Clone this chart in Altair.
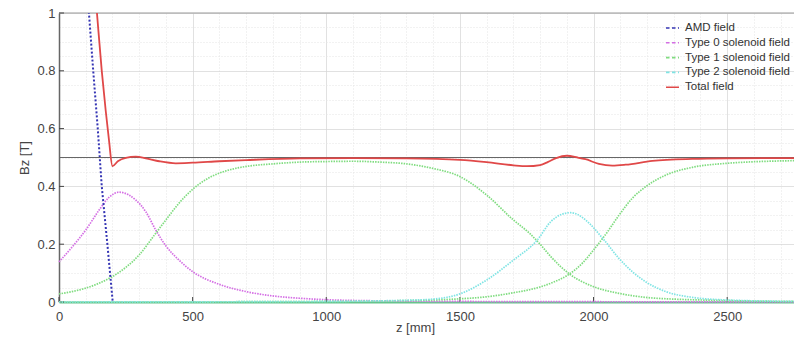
import altair as alt
import pandas as pd

FONT = "Liberation Sans"

# Series names, colours and legend dash styles
series_names = [
    "AMD field",
    "Type 0 solenoid field",
    "Type 1 solenoid field",
    "Type 2 solenoid field",
    "Total field",
]
series_colors = ["#3434b4", "#d46ee4", "#7fdc7f", "#7fe4e4", "#e04848"]
legend_dashes = [[3.5, 2.5], [3.5, 2.5], [3.5, 2.5], [3.5, 2.5], [1, 0]]

# AMD field
z_amd = [90, 112, 128, 145, 160, 181, 201]
bz_amd = [1.35, 1.0, 0.8, 0.6, 0.4, 0.2, 0.0]

# Type 0 solenoid
z_t0 = [0, 50, 100, 150, 187, 225, 260, 287, 325, 362, 400, 449, 500, 600,
        700, 800, 900, 1000, 1200, 1500, 2000, 2750]
bz_t0 = [0.139, 0.191, 0.249, 0.318, 0.362, 0.380, 0.371, 0.353, 0.312, 0.249,
         0.194, 0.145, 0.105, 0.061, 0.036, 0.021, 0.013, 0.008, 0.004, 0.002,
         0.001, 0.0]

# Type 1 solenoids (two coils)
z_t1a = [0, 100, 150, 200, 250, 300, 362, 400, 450, 500, 550, 600, 650, 700,
         800, 900, 1000, 1100, 1200, 1300, 1400, 1500, 1600, 1700, 1760, 1800,
         1840, 1910, 2000, 2095, 2195, 2300, 2400, 2550, 2750]
bz_t1a = [0.028, 0.048, 0.065, 0.088, 0.12, 0.163, 0.238, 0.284, 0.343, 0.39,
          0.424, 0.446, 0.46, 0.469, 0.478, 0.484, 0.486, 0.487, 0.484, 0.478,
          0.462, 0.434, 0.37, 0.284, 0.238, 0.2, 0.157, 0.097, 0.053, 0.03,
          0.016, 0.01, 0.007, 0.004, 0.002]
z_t1b = [0, 1000, 1300, 1400, 1500, 1600, 1700, 1800, 1840, 1910, 1960, 2000,
         2050, 2095, 2145, 2195, 2270, 2370, 2500, 2620, 2750]
bz_t1b = [0.0, 0.002, 0.005, 0.007, 0.011, 0.018, 0.032, 0.052, 0.065, 0.097,
          0.136, 0.18, 0.24, 0.3, 0.359, 0.399, 0.439, 0.466, 0.48, 0.486, 0.489]

# Type 2 solenoid
z_t2 = [0, 1000, 1200, 1300, 1400, 1500, 1600, 1700, 1790, 1840, 1880, 1914,
        1940, 1970, 2039, 2095, 2145, 2195, 2270, 2370, 2500, 2750]
bz_t2 = [0.0, 0.002, 0.004, 0.006, 0.01, 0.028, 0.076, 0.145, 0.215, 0.278,
         0.303, 0.309, 0.303, 0.284, 0.215, 0.151, 0.105, 0.07, 0.036, 0.016,
         0.007, 0.002]

# Total field
z_tot = [120, 142, 160, 175, 187, 200, 220, 250, 287, 330, 375, 437, 500, 600,
         700, 900, 1100, 1300, 1500, 1600, 1700, 1751, 1800, 1830, 1860, 1900,
         1940, 1970, 2020, 2070, 2120, 2220, 2370, 2500, 2750]
bz_tot = [1.25, 1.0, 0.8, 0.66, 0.56, 0.47, 0.487, 0.499, 0.503, 0.496, 0.487,
          0.480, 0.482, 0.487, 0.491, 0.497, 0.498, 0.497, 0.492, 0.484, 0.473,
          0.470, 0.474, 0.485, 0.498, 0.506, 0.5, 0.494, 0.478, 0.472, 0.475,
          0.488, 0.495, 0.497, 0.498]

# Axis ticks / grid
z_grid = list(range(0, 2800, 100))
z_major = [0, 500, 1000, 1500, 2000, 2500]
bz_grid = [0.0, 0.05, 0.1, 0.15, 0.2, 0.25, 0.3, 0.35, 0.4, 0.45, 0.5, 0.55,
           0.6, 0.65, 0.7, 0.75, 0.8, 0.85, 0.9, 0.95, 1.0]
bz_major = [0.0, 0.2, 0.4, 0.6, 0.8, 1.0]
bz_reference = [0.5]


def frame(name, curve, z, bz):
    return pd.DataFrame({"z": z, "bz": bz, "series": name, "curve": curve})


amd_df = frame(series_names[0], "amd", z_amd, bz_amd)
coils_df = pd.concat([
    frame(series_names[1], "t0", z_t0, bz_t0),
    frame(series_names[2], "t1a", z_t1a, bz_t1a),
    frame(series_names[2], "t1b", z_t1b, bz_t1b),
    frame(series_names[3], "t2", z_t2, bz_t2),
])
total_df = frame(series_names[4], "total", z_tot, bz_tot)
legend_df = pd.DataFrame({"z": pd.Series([], dtype=float),
                          "bz": pd.Series([], dtype=float),
                          "series": pd.Series([], dtype=str)})

x_scale = alt.Scale(domain=[0, 2750], nice=False, zero=False)
y_scale = alt.Scale(domain=[0, 1], nice=False)

x_axis = alt.Axis(
    values=z_grid,
    labelExpr="datum.value % 500 === 0 ? datum.label : ''",
    format="d",
    ticks=False,
    labelPadding=8,
    labelFlush=False,
    labelOverlap=False,
    labelFont=FONT,
    labelFontSize=13,
    labelColor="#444444",
    title="z [mm]",
    titleFont=FONT,
    titleFontSize=13,
    titleFontWeight="normal",
    titleColor="#444444",
    titleX=356,
    titleY=19,
    domainColor="#66c48c",
    domainWidth=2,
    grid=True,
    gridWidth=1,
    gridColor={"condition": {"test": "datum.value % 500 === 0", "value": "#d6d6d6"},
               "value": "#e4e4e4"},
    gridDash={"condition": {"test": "datum.value % 500 === 0", "value": [1, 0]},
              "value": [1, 2]},
)

y_axis = alt.Axis(
    values=bz_grid,
    format="~g",
    labelExpr="round(datum.value * 100) % 20 === 0 ? datum.label : ''",
    ticks=False,
    labelPadding=4,
    labelOverlap=False,
    labelFont=FONT,
    labelFontSize=13,
    labelColor="#444444",
    title="Bz [T]",
    titleFont=FONT,
    titleFontSize=13,
    titleFontWeight="normal",
    titleColor="#444444",
    titlePadding=5,
    domainColor="#666666",
    domainWidth=1.5,
    grid=True,
    gridWidth=1,
    gridColor={"condition": {"test": "round(datum.value * 100) % 20 === 0", "value": "#d6d6d6"},
               "value": "#e4e4e4"},
    gridDash={"condition": {"test": "round(datum.value * 100) % 20 === 0", "value": [1, 0]},
              "value": [1, 2]},
)

x_enc = alt.X("z:Q", scale=x_scale, axis=x_axis)
y_enc = alt.Y("bz:Q", scale=y_scale, axis=y_axis)

legend = alt.Legend(
    title=None,
    orient="none",
    legendX=606,
    legendY=7.5,
    padding=0,
    symbolType="stroke",
    symbolSize=169,
    symbolStrokeWidth=1.6,
    labelFont=FONT,
    labelFontSize=11.5,
    labelColor="#333333",
    labelOffset=5,
    rowPadding=1.8,
)
color_enc = alt.Color("series:N", scale=alt.Scale(domain=series_names, range=series_colors),
                      legend=legend)
dash_enc = alt.StrokeDash("series:N", scale=alt.Scale(domain=series_names, range=legend_dashes),
                          legend=legend)

# Empty layer that only carries the legend dash styles
legend_layer = alt.Chart(legend_df).mark_line().encode(
    x=x_enc, y=y_enc, color=color_enc, strokeDash=dash_enc
)

coils = alt.Chart(coils_df).mark_line(
    interpolate="monotone", strokeWidth=1.7, strokeDash=[1.5, 1.1]
).encode(x=x_enc, y=y_enc, color=color_enc, detail="curve:N")

amd = alt.Chart(amd_df).mark_line(
    interpolate="linear", strokeWidth=2, strokeDash=[2, 2], clip=True
).encode(x=x_enc, y=y_enc, color=color_enc)

total = alt.Chart(total_df).mark_line(
    interpolate="monotone", strokeWidth=1.8, clip=True
).encode(x=x_enc, y=y_enc, color=color_enc)

reference = alt.Chart(pd.DataFrame({"bz": bz_reference})).mark_rule(
    color="#666666", strokeWidth=1
).encode(y=y_enc)

top_border = alt.Chart(pd.DataFrame({"bz": [1.0]})).mark_rule(
    color="#999999", strokeWidth=1
).encode(y=y_enc)

x_ticks = alt.Chart(pd.DataFrame({"z": z_major})).mark_rule(
    color="#444444", strokeWidth=1
).encode(x=x_enc, y=alt.value(289), y2=alt.value(284))

y_ticks = alt.Chart(pd.DataFrame({"bz": bz_major})).mark_rule(
    color="#444444", strokeWidth=1
).encode(y=y_enc, x=alt.value(0), x2=alt.value(5))

chart = alt.layer(
    legend_layer, top_border, x_ticks, y_ticks, coils, amd, reference, total
).properties(
    width=735,
    height=289,
    padding={"left": 59, "top": 13, "right": 0, "bottom": 36},
    autosize=alt.AutoSizeParams(type="none"),
    background="white",
).configure_view(stroke=None)

chart.save("out.html", embed_options={"renderer": "svg", "actions": False})
